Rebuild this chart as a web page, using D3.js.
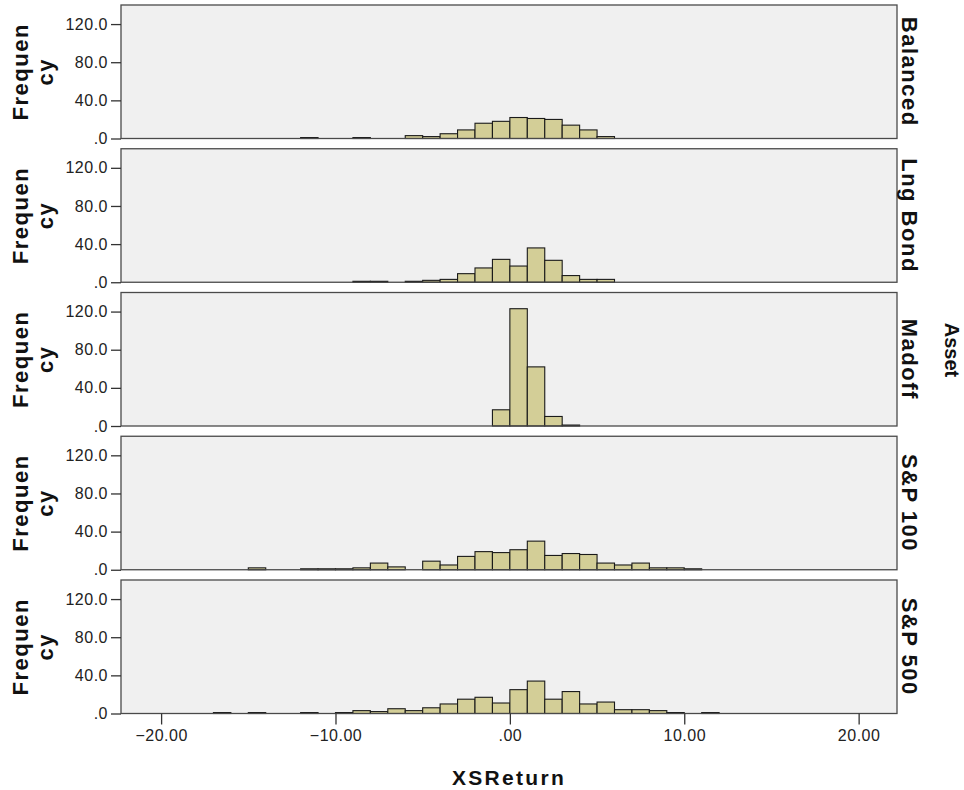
<!DOCTYPE html>
<html>
<head>
<meta charset="utf-8">
<script src="https://cdn.jsdelivr.net/npm/d3@7"></script>
<style>
  body { margin: 0; background: #fff; }
  svg { display: block; font-family: "Liberation Sans", Arial, sans-serif; }
  .tick text { font-size: 16px; fill: #222; letter-spacing: 0.5px; }
  .lbl { font-weight: bold; font-size: 22px; fill: #111; }
</style>
</head>
<body>
<svg width="964" height="790"></svg>
<script>
// histogram bins (lower edge, width 1)
var binStarts = [-17, -16, -15, -14, -13, -12, -11, -10, -9, -8, -7, -6, -5, -4, -3,
                 -2, -1, 0, 1, 2, 3, 4, 5, 6, 7, 8, 9, 10, 11];
var assets = ['Balanced', 'Lng Bond', 'Madoff', 'S&P 100', 'S&P 500'];

var balancedCounts = [0, 0, 0, 0, 0, 1, 0, 0, 1, 0, 0, 3, 2, 5, 9, 16, 18, 22, 21, 20, 14, 9, 2, 0, 0, 0, 0, 0, 0];
var lngBondCounts  = [0, 0, 0, 0, 0, 0, 0, 0, 1, 1, 0, 1, 2, 3, 9, 15, 24, 17, 36, 23, 7, 3, 3, 0, 0, 0, 0, 0, 0];
var madoffCounts   = [0, 0, 0, 0, 0, 0, 0, 0, 0, 0, 0, 0, 0, 0, 0, 0, 17, 123, 62, 10, 1, 0, 0, 0, 0, 0, 0, 0, 0];
var sp100Counts    = [0, 0, 2, 0, 0, 1, 1, 1, 2, 7, 3, 0, 9, 5, 14, 19, 18, 21, 30, 15, 17, 16, 7, 5, 7, 2, 2, 1, 0];
var sp500Counts    = [1, 0, 1, 0, 0, 1, 0, 1, 3, 2, 5, 3, 6, 10, 15, 17, 11, 25, 34, 15, 23, 10, 12, 4, 4, 3, 1, 0, 1];
var allCounts = [balancedCounts, lngBondCounts, madoffCounts, sp100Counts, sp500Counts];

var yTicks = [0, 40, 80, 120];
var xTicks = [-20, -10, 0, 10, 20];

var svg = d3.select('svg');

var left = 121, right = 897;
var top0 = 5, step = 143.75, panelH = 133.5;

var x = d3.scaleLinear().domain([-22.3, 22.2]).range([left, right]);
var y = d3.scaleLinear().domain([0, 140]).range([panelH, 0]);

var fmtY = function(v) { return d3.format('.1f')(v).replace(/^0\./, '.'); };
var fmtX = function(v) { return d3.format('.2f')(v).replace(/^0\./, '.'); };

var panels = svg.selectAll('g.panel')
  .data(assets)
  .enter()
  .append('g')
  .attr('class', 'panel')
  .attr('transform', function(d, i) { return 'translate(0,' + (top0 + i * step) + ')'; });

panels.append('rect')
  .attr('x', left)
  .attr('y', 0)
  .attr('width', right - left)
  .attr('height', panelH)
  .style('fill', '#f0f0f0');

// bars
panels.each(function(d, i) {
  var rows = binStarts.map(function(b, j) { return {b: b, n: allCounts[i][j]}; })
    .filter(function(r) { return r.n > 0; });
  d3.select(this).selectAll('rect.bar')
    .data(rows)
    .enter()
    .append('rect')
    .attr('class', 'bar')
    .attr('x', r => x(r.b))
    .attr('width', r => x(r.b + 1) - x(r.b))
    .attr('y', r => y(r.n))
    .attr('height', r => y(0) - y(r.n))
    .style('fill', '#d3ce97')
    .style('stroke', '#1a1a1a')
    .style('stroke-width', 1.1);
});

// frame
panels.append('rect')
  .attr('x', left)
  .attr('y', 0)
  .attr('width', right - left)
  .attr('height', panelH)
  .style('fill', 'none')
  .style('stroke', '#4a4a4a')
  .style('stroke-width', 1.3);

// y axes
var yAxis = d3.axisLeft(y).tickValues(yTicks).tickFormat(fmtY).tickSize(10).tickPadding(3);
panels.append('g')
  .attr('class', 'y axis')
  .attr('transform', 'translate(' + left + ',0)')
  .call(yAxis)
  .call(g => g.select('.domain').remove())
  .call(g => g.selectAll('.tick line').style('stroke', '#333').style('stroke-width', 1.3));

// strip labels
panels.append('text')
  .attr('class', 'lbl')
  .attr('text-anchor', 'middle')
  .attr('transform', 'translate(902,' + (panelH / 2) + ') rotate(90)')
  .style('letter-spacing', '1.5px')
  .text(d => d);

// Frequency labels
panels.append('text')
  .attr('class', 'lbl')
  .attr('text-anchor', 'middle')
  .attr('transform', 'translate(28,' + (panelH / 2) + ') rotate(-90)')
  .style('letter-spacing', '1.5px')
  .text('Frequen');
panels.append('text')
  .attr('class', 'lbl')
  .attr('text-anchor', 'middle')
  .attr('transform', 'translate(53,' + (panelH / 2) + ') rotate(-90)')
  .style('letter-spacing', '1.5px')
  .text('cy');

// x axis
var bottom = top0 + 4 * step + panelH;
var xAxis = d3.axisBottom(x).tickValues(xTicks).tickFormat(fmtX).tickSize(11).tickPadding(5);
svg.append('g')
  .attr('class', 'x axis')
  .attr('transform', 'translate(0,' + bottom + ')')
  .call(xAxis)
  .call(g => g.select('.domain').remove())
  .call(g => g.selectAll('.tick line').style('stroke', '#333').style('stroke-width', 1.3));

svg.append('text')
  .attr('class', 'lbl')
  .attr('x', (left + right) / 2)
  .attr('y', 785)
  .attr('text-anchor', 'middle')
  .style('font-size', '21px')
  .style('letter-spacing', '2.3px')
  .text('XSReturn');

svg.append('text')
  .attr('class', 'lbl')
  .attr('text-anchor', 'middle')
  .attr('transform', 'translate(945,350) rotate(90)')
  .style('font-size', '20px')
  .text('Asset');
</script>
</body>
</html>
